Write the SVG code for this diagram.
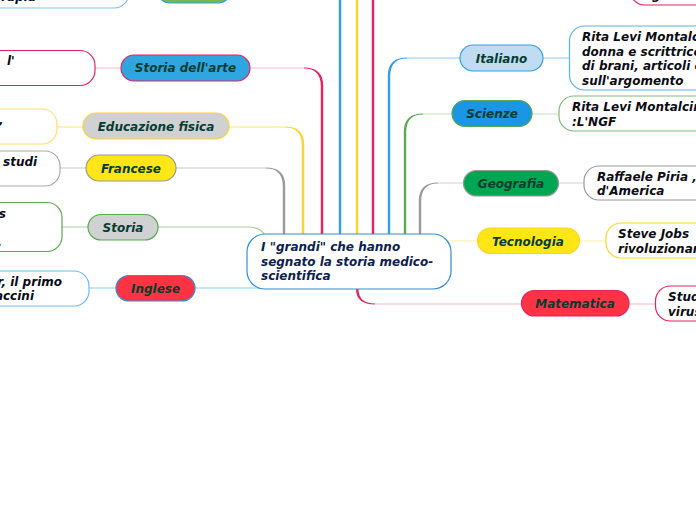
<svg xmlns="http://www.w3.org/2000/svg" width="696" height="520" viewBox="0 0 696 520">
<style>
text{font-family:"DejaVu Sans",sans-serif;font-weight:700;font-style:italic;font-size:12px}
.t{fill:#063c2f}.l{fill:#0b0b14}.c{fill:#0b2150}.e{text-anchor:end}.m{text-anchor:middle}
rect{stroke-width:1.2}
.h{fill:none;stroke-width:1.2}.v{fill:none;stroke-width:2.4}
</style>
<rect width="696" height="520" fill="#fff" stroke="none"/>
<g id="connectors" fill="none">
<path class="v" stroke="#2f9fe8" d="M340 0V234"/>
<path class="v" stroke="#ffd42a" d="M357 0V234"/>
<path class="v" stroke="#e8215f" d="M373 0V234"/>
<path class="h" stroke="#f8b9cd" d="M95 68H121M251 68H304"/>
<path class="v" stroke="#e8215f" d="M322 234V86"/>
<path fill="#e8215f" d="M304 67.500Q323.200 67.500 323.200 86H320.800Q320.800 68.500 304 68.500Z"/>
<path class="h" stroke="#ffe680" d="M57 127H83M229 127H285"/>
<path class="v" stroke="#ffd42a" d="M303 234V145"/>
<path fill="#ffd42a" d="M285 126.500Q304.200 126.500 304.200 145H301.800Q301.800 127.500 285 127.500Z"/>
<path class="h" stroke="#c8c8c8" d="M60 168H86M176 168H266"/>
<path class="v" stroke="#999" d="M284 234V186"/>
<path fill="#999" d="M266 167.500Q285.200 167.500 285.200 186H282.800Q282.800 168.500 266 168.500Z"/>
<path class="h" stroke="#a5d29a" d="M62 227H88M158 227H248Q260 227 265 235"/>
<path class="h" stroke="#8accf5" d="M89 288H116M195 288H262"/>
<path class="h" stroke="#8accf5" d="M407 58H460M543 58H569"/>
<path class="v" stroke="#2f9fe8" d="M389 234V76"/>
<path fill="#2f9fe8" d="M407 57.500Q387.800 57.500 387.800 76H390.200Q390.200 58.500 407 58.500Z"/>
<path class="h" stroke="#c2e2bc" d="M423 114H452M532 114H559"/>
<path class="v" stroke="#5aaa4f" d="M405 234V132"/>
<path fill="#5aaa4f" d="M423 113.500Q403.800 113.500 403.800 132H406.200Q406.200 114.500 423 114.500Z"/>
<path class="h" stroke="#d2d2d2" d="M438 183H463M558 183H584"/>
<path class="v" stroke="#999" d="M420 234V201"/>
<path fill="#999" d="M438 182.500Q418.800 182.500 418.800 201H421.200Q421.200 183.500 438 183.500Z"/>
<path class="h" stroke="#ffeeaa" d="M447 241H477M580 241H606"/>
<path class="h" stroke="#f8b9cd" d="M375 304H521M629 304H655"/>
<path fill="#e8215f" d="M356 289Q356 304.500 375 304.500V303.500Q358.500 303.500 358.500 289Z"/>
</g>
<g id="n-top-left"><rect x="-60" y="-30" width="189" height="38" rx="15" fill="#fff" stroke="#7cc3f0"/><text class="l e" x="36" y="1">rapia</text></g>
<g id="n-top-green"><rect x="157" y="-23" width="74" height="26" rx="13" fill="#7ab648" stroke="#2f9fe8"/></g>
<g id="n-top-right"><rect x="630" y="-30" width="100" height="35" rx="15" fill="#fff" stroke="#e8215f"/><text class="l" x="652" y="-1">g</text></g>
<g id="n-arte"><rect x="121" y="55" width="129" height="26" rx="13" fill="#2fa6e0" stroke="#e8215f"/><text class="t m" x="185.500" y="72">Storia dell'arte</text></g>
<g id="n-arte-l"><rect x="-60" y="50.500" width="155" height="35" rx="15" fill="#fff" stroke="#e8215f"/><text class="l" x="7" y="65">l'</text></g>
<g id="n-edu"><rect x="83" y="113" width="146" height="26" rx="13" fill="#cfd1d3" stroke="#ffd42a"/><text class="t m" x="156" y="131">Educazione fisica</text></g>
<g id="n-edu-l"><rect x="-60" y="109" width="117" height="35" rx="15" fill="#fff" stroke="#ffe070"/><text class="l e" x="3.500" y="124">,</text></g>
<g id="n-fr"><rect x="86" y="155" width="90" height="26" rx="13" fill="#ffe614" stroke="#999"/><text class="t m" x="131" y="173">Francese</text></g>
<g id="n-fr-l"><rect x="-60" y="151" width="120" height="35" rx="15" fill="#fff" stroke="#aaa"/><text class="l" x="3" y="166">studi</text></g>
<g id="n-st"><rect x="88" y="214.500" width="70" height="25.500" rx="13" fill="#cfd1d3" stroke="#5aaa4f"/><text class="t m" x="123" y="232">Storia</text></g>
<g id="n-st-l"><rect x="-60" y="202.500" width="122" height="49" rx="15" fill="#fff" stroke="#5aaa4f"/><text class="l e" x="6" y="218">s</text><text class="l e" x="2" y="246">,</text></g>
<g id="n-in"><rect x="116" y="275.500" width="79" height="25.500" rx="13" fill="#ff3344" stroke="#2f8fd8"/><text class="t m" x="155.500" y="293">Inglese</text></g>
<g id="n-in-l"><rect x="-60" y="271" width="149" height="35" rx="15" fill="#fff" stroke="#6bbcf0"/><text class="l e" x="62" y="286">r, il primo</text><text class="l e" x="34" y="300">accini</text></g>
<g id="n-center"><rect x="247" y="234" width="204" height="55" rx="18" fill="#fff" stroke="#2f8fd8"/><text class="c" x="261" y="251">I "grandi" che hanno</text><text class="c" x="261" y="265.500">segnato la storia medico-</text><text class="c" x="261" y="280">scientifica</text></g>
<g id="n-it"><rect x="460" y="45" width="83" height="26" rx="13" fill="#c0dcf2" stroke="#2f9fe8"/><text class="t m" x="501.500" y="63">Italiano</text></g>
<g id="n-it-l"><rect x="569.500" y="26" width="180" height="64" rx="15" fill="#fff" stroke="#5bb4ee"/><text class="l" x="582" y="41">Rita Levi Montalcini</text><text class="l" x="582" y="55.500">donna e scrittrice</text><text class="l" x="582" y="70">di brani, articoli e</text><text class="l" x="582" y="84.500">sull'argomento</text></g>
<g id="n-sc"><rect x="452" y="100.500" width="80" height="26" rx="13" fill="#1a96e4" stroke="#5aaa4f"/><text class="t m" x="492" y="118">Scienze</text></g>
<g id="n-sc-l"><rect x="559" y="96" width="180" height="35" rx="15" fill="#fff" stroke="#7cbd72"/><text class="l" x="572" y="111">Rita Levi Montalcini</text><text class="l" x="572" y="125.500">:L'NGF</text></g>
<g id="n-ge"><rect x="463.500" y="170.500" width="95" height="25.500" rx="13" fill="#00a651" stroke="#999"/><text class="t m" x="511" y="188">Geografia</text></g>
<g id="n-ge-l"><rect x="584" y="166" width="150" height="34" rx="15" fill="#fff" stroke="#999"/><text class="l" x="597" y="181">Raffaele Piria ,</text><text class="l" x="597" y="195">d'America</text></g>
<g id="n-te"><rect x="477.500" y="228" width="102" height="25.500" rx="13" fill="#ffe614" stroke="#ffd42a"/><text class="t m" x="528" y="246">Tecnologia</text></g>
<g id="n-te-l"><rect x="606" y="223" width="130" height="35" rx="15" fill="#fff" stroke="#ffd42a"/><text class="l" x="618" y="238">Steve Jobs</text><text class="l" x="618" y="252.500">rivoluzionari</text></g>
<g id="n-ma"><rect x="521.500" y="290.500" width="107.500" height="25.500" rx="13" fill="#ff3344" stroke="#e8215f"/><text class="t m" x="575" y="308">Matematica</text></g>
<g id="n-ma-l"><rect x="655.500" y="286" width="90" height="35" rx="15" fill="#fff" stroke="#e8215f"/><text class="l" x="668" y="301">Studi</text><text class="l" x="668" y="315.500">virus</text></g>
</svg>
